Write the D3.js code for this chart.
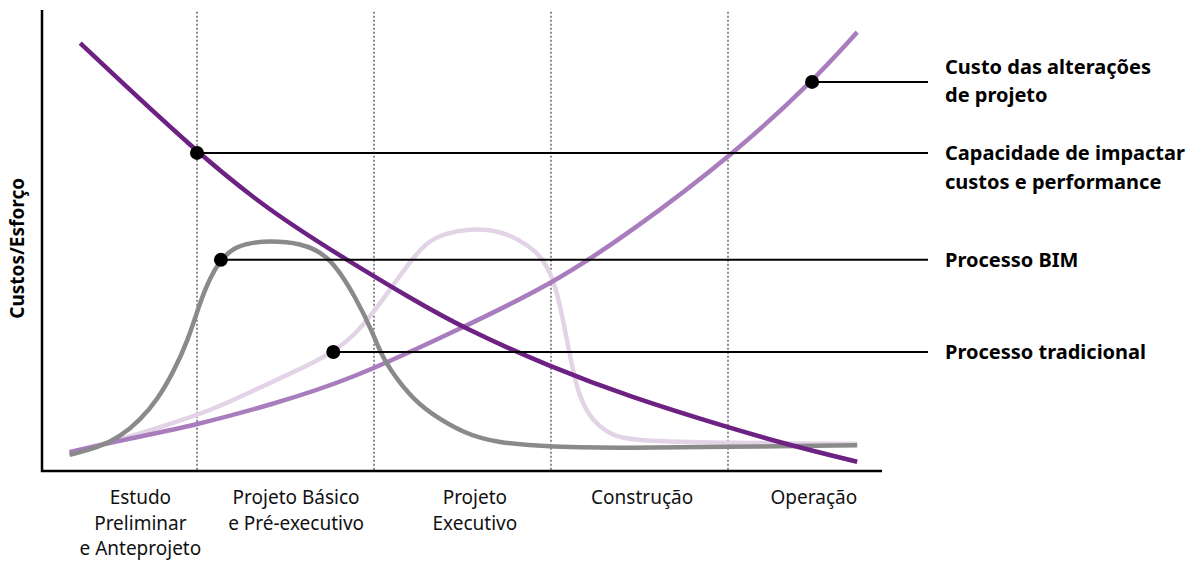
<!DOCTYPE html>
<html>
<head>
<meta charset="utf-8">
<script src="https://cdn.jsdelivr.net/npm/d3@7"></script>
<style>
  body { margin: 0; background: #fff; }
  text { font-family: "Noto Sans", Lato, sans-serif; }
</style>
</head>
<body>
<div id="macleamy"></div>
<script>
// Curva de MacLeamy: esforço ao longo das fases do projeto
// x: 0-100 ao longo das fases (cada fase = 20), y: 0-100 custo/esforço

const phases = [
    ["Estudo", "Preliminar", "e Anteprojeto"],
    ["Projeto Básico", "e Pré-executivo"],
    ["Projeto", "Executivo"],
    ["Construção"],
    ["Operação"]
];
const phaseCenters = [13.6, 31.2, 51.4, 70.3, 89.7];
const phaseBounds = [20, 40, 60, 80];

// capacidade de impactar custos e performance
const capacidade = [
    [6.8, 92.8], [20.0, 69.0], [28.2, 56.4], [36.9, 45.8], [44.1, 37.5],
    [50.1, 31.0], [59.9, 22.6], [68.9, 16.1], [79.9, 9.5], [87.0, 5.6], [94.6, 2.0]
];
// custo das alterações de projeto
const custo = [
    [5.6, 4.1], [11.3, 6.6], [20.0, 10.0], [28.2, 14.3], [37.3, 19.7], [50.1, 31.2],
    [59.9, 40.3], [68.9, 51.6], [80.8, 69.0], [89.5, 84.4], [94.6, 95.2]
];
// processo tradicional
const tradicional = [
    [5.6, 4.1], [11.3, 6.7], [20.0, 12.1], [22.6, 14.1], [26.0, 17.1],
    [29.7, 20.4], [32.8, 23.2], [35.4, 25.8], [38.1, 29.9], [41.0, 37.1],
    [44.4, 46.4], [46.3, 50.1], [48.2, 51.6], [50.8, 52.5], [53.9, 52.3],
    [56.5, 50.1], [58.4, 47.5], [59.5, 44.7], [60.7, 39.3], [61.8, 28.4],
    [62.9, 17.6], [64.1, 12.6], [65.5, 9.5], [67.0, 7.8], [68.9, 6.7],
    [76.8, 6.1], [94.6, 5.9]
];
// processo BIM
const bim = [
    [5.6, 3.5], [9.0, 5.2], [11.3, 7.4], [13.6, 11.1], [15.5, 15.4],
    [17.3, 21.3], [19.0, 28.4], [20.3, 36.4], [21.5, 42.1], [22.7, 45.8],
    [24.1, 48.4], [26.0, 49.5], [28.2, 49.9], [31.6, 49.5], [35.0, 46.9],
    [38.1, 37.1], [39.9, 29.9], [41.0, 24.1], [44.1, 16.1], [46.3, 12.6],
    [50.1, 8.2], [53.9, 6.1], [59.9, 5.2], [68.9, 5.0], [79.1, 5.2], [94.6, 5.6]
];

// pontos marcados em cada curva e seus rótulos
const markers = [
    { point: custo[9], label: ["Custo das alterações", "de projeto"] },
    { point: capacidade[1], label: ["Capacidade de impactar", "custos e performance"] },
    { point: bim[9], label: ["Processo BIM"] },
    { point: tradicional[7], label: ["Processo tradicional"] }
];

const yLabel = "Custos/Esforço";

const width = 1196,
    height = 561;

const svg = d3.select("#macleamy")
    .append("svg")
    .attr("width", width)
    .attr("height", height)
    .attr("viewBox", [0, 0, width, height]);

const x = d3.scaleLinear().domain([0, 100]).range([20, 905]);
const y = d3.scaleLinear().domain([0, 100]).range([471, 10]);

const axisLeft = 42,
    axisRight = 882;

// divisórias das fases (pontilhadas)
svg.append("g")
    .selectAll("line")
    .data(phaseBounds)
    .join("line")
    .attr("x1", d => x(d))
    .attr("x2", d => x(d))
    .attr("y1", y(99.6))
    .attr("y2", y(0))
    .attr("stroke", "#8c8c8c")
    .attr("stroke-width", 2)
    .attr("stroke-dasharray", "2,2");

// eixos
svg.append("path")
    .attr("d", `M${axisLeft},${y(100)}V${y(0)}H${axisRight}`)
    .attr("fill", "none")
    .attr("stroke", "#000")
    .attr("stroke-width", 2.5);

svg.append("text")
    .attr("transform", `translate(24,${y(48.3)}) rotate(-90)`)
    .attr("text-anchor", "middle")
    .attr("font-size", 19)
    .attr("font-weight", 700)
    .text(yLabel);

// rótulos das fases
const phaseText = svg.append("g")
    .selectAll("text")
    .data(phases)
    .join("text")
    .attr("text-anchor", "middle")
    .attr("font-size", 19)
    .attr("fill", "#111");

phaseText.selectAll("tspan")
    .data((d, i) => d.map(t => ({ t, i })))
    .join("tspan")
    .attr("x", d => x(phaseCenters[d.i]))
    .attr("y", (d, j) => 504 + j * 25.5)
    .text(d => d.t);

// curvas
const line = d3.line()
    .x(d => x(d[0]))
    .y(d => y(d[1]))
    .curve(d3.curveBasis);

const series = [
    { data: tradicional, color: "#e3d3e7" },
    { data: custo, color: "#a97dbd" },
    { data: bim, color: "#8a8a8a" },
    { data: capacidade, color: "#6c2183" }
];

svg.append("g")
    .selectAll("path")
    .data(series)
    .join("path")
    .attr("d", d => line(d.data))
    .attr("fill", "none")
    .attr("stroke", d => d.color)
    .attr("stroke-width", 4.5)
    .attr("stroke-linecap", "butt");

// linhas de chamada, pontos e rótulos
const labelX = 945,
    leaderEnd = 928;

svg.append("g")
    .selectAll("line")
    .data(markers)
    .join("line")
    .attr("x1", d => x(d.point[0]))
    .attr("x2", leaderEnd)
    .attr("y1", d => y(d.point[1]))
    .attr("y2", d => y(d.point[1]))
    .attr("stroke", "#000")
    .attr("stroke-width", 2);

svg.append("g")
    .selectAll("circle")
    .data(markers)
    .join("circle")
    .attr("cx", d => x(d.point[0]))
    .attr("cy", d => y(d.point[1]))
    .attr("r", 7)
    .attr("fill", "#000");

const labels = svg.append("g")
    .selectAll("text")
    .data(markers)
    .join("text")
    .attr("font-size", 20)
    .attr("font-weight", 700)
    .attr("fill", "#000");

labels.selectAll("tspan")
    .data((d, i) => d.label.map(t => ({ t, d, i })))
    .join("tspan")
    .attr("x", labelX)
    .attr("y", (t, j) => {
        // o primeiro rótulo fica centrado na linha, os outros alinham a 1ª linha
        const base = y(t.d.point[1]) + 7;
        return t.i === 0 ? base - 15 + j * 28 : base + j * 29;
    })
    .text(t => t.t);
</script>
</body>
</html>
